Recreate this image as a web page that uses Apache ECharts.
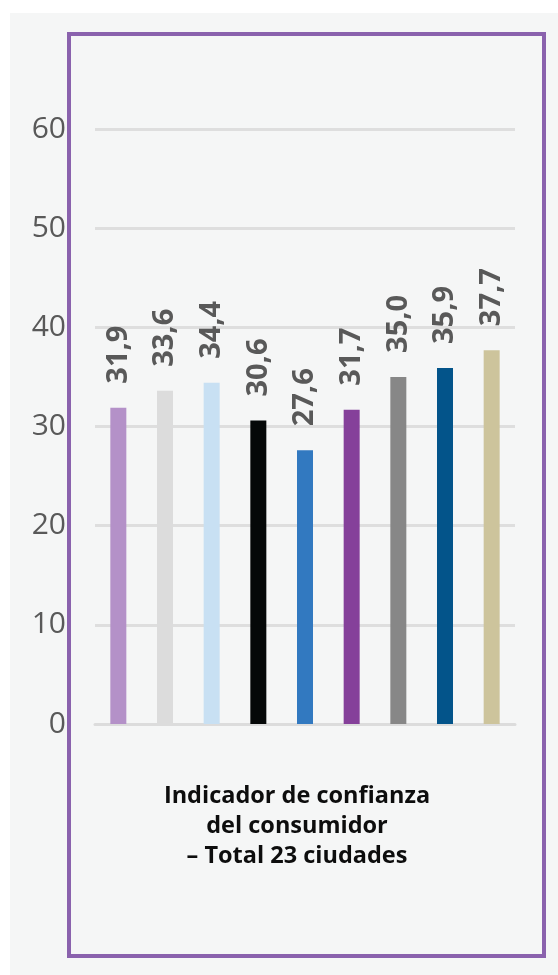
<!DOCTYPE html>
<html><head><meta charset="utf-8">
<script src="https://cdn.jsdelivr.net/npm/echarts@6/dist/echarts.min.js"></script>
<style>html,body{margin:0;padding:0;background:#fff}#c{width:558px;height:975px}</style>
</head><body><div id="c"></div>
<script>
const categories = ['1','2','3','4','5','6','7','8','9'];
const values = [31.9, 33.6, 34.4, 30.6, 27.6, 31.7, 35.0, 35.9, 37.7];
const colors = ['#b491c8','#dcdcdc','#c8e0f3','#050808','#3279c0','#85409a','#878787','#03548a','#cdc49c'];
const yTicks = [0, 10, 20, 30, 40, 50, 60];
const titleText = 'Indicador de confianza\ndel consumidor\n– Total 23 ciudades';

const chart = echarts.init(document.getElementById('c'));
chart.setOption({
  animation: false,
  backgroundColor: '#ffffff',
  graphic: [
    {type:'rect', z:-10, shape:{x:10,y:13,width:548,height:962}, style:{fill:'#f5f6f6'}},
    {type:'rect', z:-5, shape:{x:69,y:34,width:475,height:922}, style:{fill:'none', stroke:'#8a62ad', lineWidth:4}}
  ],
  title: {
    text: titleText, left: 292, top: 776, textAlign: 'center',
    textStyle: {fontFamily:'Open Sans', fontWeight:'bold', fontSize:23.5, color:'#0d0d0d', lineHeight:30}
  },
  grid: {left:95, right:43, top:129, bottom:251},
  xAxis: {
    type:'category', data: categories,
    axisLine:{show:true, lineStyle:{color:'#dcdcdc', width:3}},
    axisTick:{show:false}, axisLabel:{show:false}
  },
  yAxis: {
    type:'value', min: yTicks[0], max: yTicks[yTicks.length-1], interval: 10,
    axisLine:{show:false}, axisTick:{show:false},
    splitLine:{lineStyle:{color:'#dedede', width:3}},
    axisLabel:{margin:29, color:'#595959', fontFamily:'Open Sans', fontSize:30}
  },
  series: [{
    type:'bar', barWidth:16,
    data: values.map((v,i)=>({value:v, itemStyle:{color:colors[i]}})),
    label: {
      show:true, position:'top', rotate:90, align:'left', verticalAlign:'middle', distance:24,
      formatter: p => p.value.toFixed(1).replace('.', ','),
      color:'#595959', fontFamily:'Open Sans', fontWeight:'bold', fontSize:29
    }
  }]
});
</script></body></html>
